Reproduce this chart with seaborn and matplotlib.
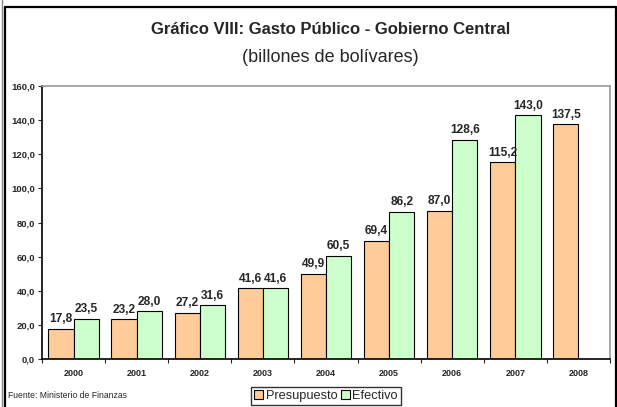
import numpy as np
import pandas as pd
import seaborn as sns
from matplotlib import pyplot as plt
from matplotlib.lines import Line2D
from matplotlib.ticker import FuncFormatter, FixedLocator

sns.set_style("white")
plt.rcParams['font.family'] = ['Liberation Sans', 'DejaVu Sans']

# data
years = ['2000', '2001', '2002', '2003', '2004', '2005', '2006', '2007', '2008']
presupuesto = [17.8, 23.2, 27.2, 41.6, 49.9, 69.4, 87.0, 115.2, 137.5]
efectivo = [23.5, 28.0, 31.6, 41.6, 60.5, 86.2, 128.6, 143.0, np.nan]

df = pd.DataFrame({'year': years * 2,
                   'value': presupuesto + efectivo,
                   'serie': ['Presupuesto'] * len(years) + ['Efectivo'] * len(years)})

def coma(v, pos=None):
    return f"{v:.1f}".replace('.', ',')

fig = plt.figure(figsize=(6.17, 4.07), dpi=100)
ax = fig.add_axes([42 / 617, 1 - 359 / 407, 568 / 617, 273 / 407])

sns.barplot(data=df, x='year', y='value', hue='serie',
            palette={'Presupuesto': '#FFCC99', 'Efectivo': '#CCFFCC'}, saturation=1,
            edgecolor='black', linewidth=0.8, width=0.8, ax=ax, legend=True)

# value labels
for cont in ax.containers:
    labels = [coma(v) if not np.isnan(v) else '' for v in cont.datavalues]
    ax.bar_label(cont, labels=labels, padding=2.5, fontsize=8.6, fontweight='bold')

ax.set_ylim(0, 160)
ax.set_xlim(-0.5, 8.5)
ax.set_yticks(np.arange(0, 161, 20))
ax.yaxis.set_major_formatter(FuncFormatter(coma))
ax.tick_params(axis='y', labelsize=6.8, length=3, width=0.8, pad=2, direction='out', left=True)
ax.tick_params(axis='x', which='major', length=0, labelsize=6.5, pad=7.5)
ax.xaxis.set_minor_locator(FixedLocator(np.arange(-0.5, 9, 1)))
ax.tick_params(axis='x', which='minor', length=3, width=0.8, direction='out', bottom=True)
for t in ax.get_xticklabels() + ax.get_yticklabels():
    t.set_fontweight('bold')
ax.set_xlabel('')
ax.set_ylabel('')

for s in ['left', 'bottom']:
    ax.spines[s].set_color('black')
    ax.spines[s].set_linewidth(1.2)
for s in ['top', 'right']:
    ax.spines[s].set_color('#999999')
    ax.spines[s].set_linewidth(1.2)

ax.legend(loc='center', bbox_to_anchor=(326 / 617, 1 - 396 / 407), bbox_transform=fig.transFigure,
          ncol=2, frameon=True, fancybox=False, edgecolor='black', fontsize=9.2,
          handlelength=0.7, handleheight=0.7, handletextpad=0.2, columnspacing=0.3,
          borderpad=0.2, borderaxespad=0)
ax.get_legend().get_frame().set_linewidth(1.0)

fig.text(331 / 617, 1 - 30 / 407, 'Gráfico VIII: Gasto Público - Gobierno Central',
         ha='center', va='center', fontsize=12, fontweight='bold')
fig.text(330 / 617, 1 - 57 / 407, '(billones de bolívares)',
         ha='center', va='center', fontsize=13)
fig.text(8 / 617, 1 - 396 / 407, 'Fuente: Ministerio de Finanzas',
         ha='left', va='center', fontsize=6.2)

# outer frame
fig.add_artist(Line2D([1.5 / 617, 1.5 / 617], [0, 1], color='#888888', lw=1.0))
fig.add_artist(Line2D([5 / 617, 5 / 617], [0, 1 - 7 / 407], color='black', lw=1.6))
fig.add_artist(Line2D([5 / 617, 616 / 617], [1 - 7 / 407, 1 - 7 / 407], color='black', lw=1.6))
fig.add_artist(Line2D([615.5 / 617, 615.5 / 617], [0, 1 - 7 / 407], color='black', lw=1.6))

fig.savefig('out.png', dpi=100)
